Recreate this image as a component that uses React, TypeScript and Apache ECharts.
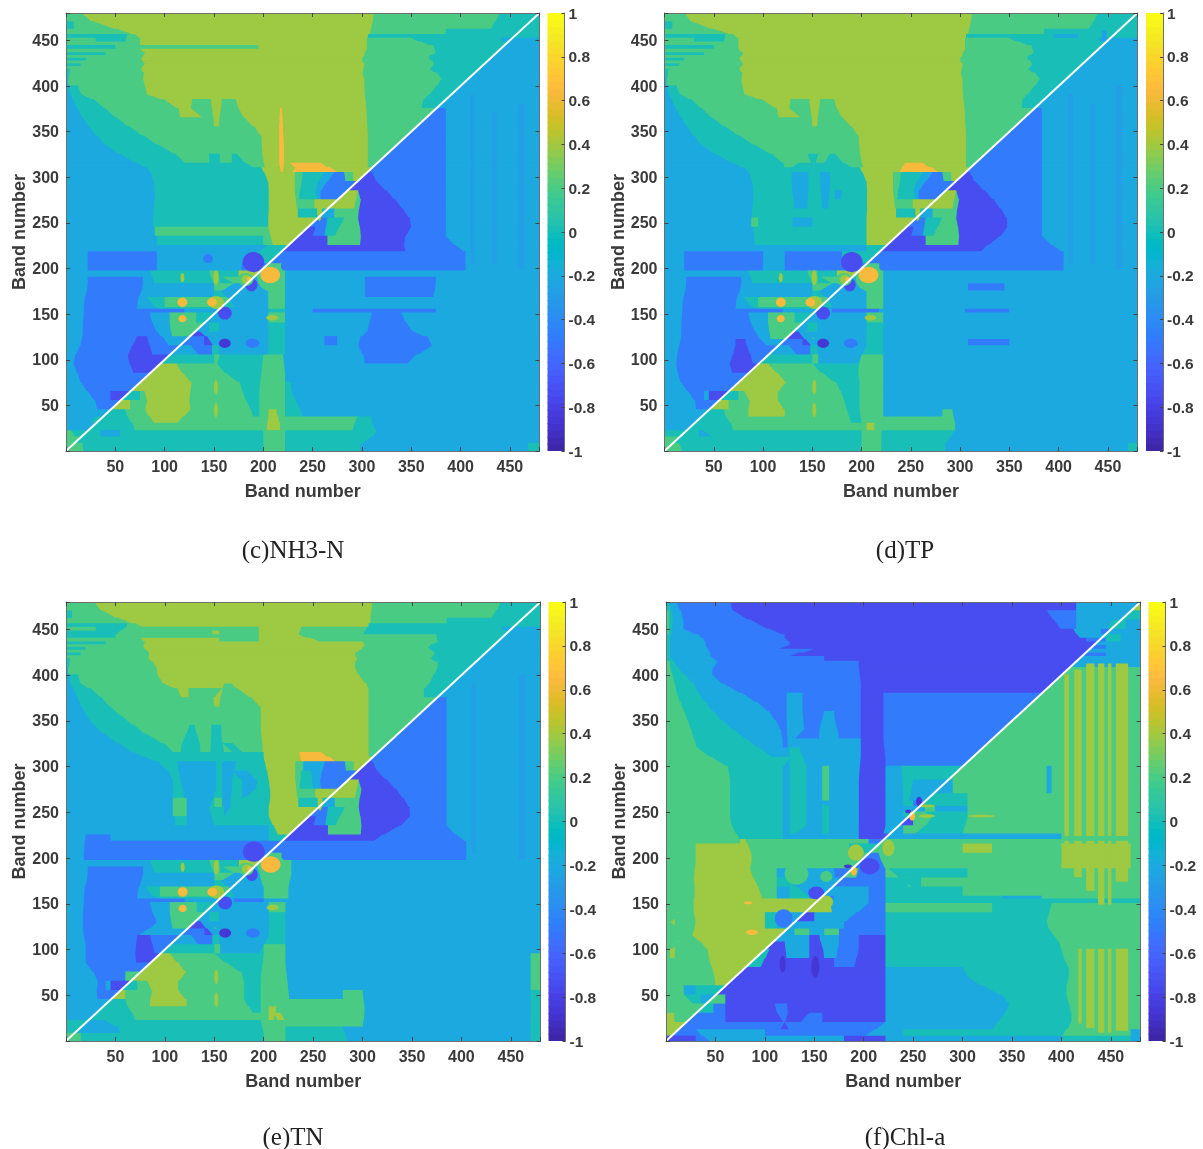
import React, { useEffect, useRef } from "react";
import * as echarts from "echarts";

// Contour level values; the digits in the rows below are indexes into this list.
const levelValues = [-0.85, -0.72, -0.48, -0.2, 0, 0.2, 0.4, 0.65, 0.9, -0.27];

const parula = [
  [0.2422,0.1504,0.6603],[0.2504,0.165,0.7076],[0.2578,0.1818,0.7511],[0.2647,0.1978,0.7952],
  [0.2706,0.2147,0.8364],[0.2751,0.2342,0.871],[0.2783,0.2559,0.8991],[0.2803,0.2782,0.9221],
  [0.2813,0.3006,0.9414],[0.281,0.3228,0.9579],[0.2795,0.3447,0.9717],[0.276,0.3667,0.9829],
  [0.2699,0.3892,0.9906],[0.2602,0.4123,0.9952],[0.244,0.4358,0.9988],[0.2206,0.4603,0.9973],
  [0.1963,0.4847,0.9892],[0.1834,0.5074,0.9798],[0.1786,0.5289,0.9682],[0.1764,0.5499,0.952],
  [0.1687,0.5703,0.9359],[0.154,0.5902,0.9218],[0.146,0.6091,0.9079],[0.138,0.6276,0.8973],
  [0.1248,0.6459,0.8883],[0.1113,0.6635,0.8763],[0.0952,0.6798,0.8598],[0.0689,0.6948,0.8394],
  [0.0297,0.7082,0.8163],[0.0036,0.7203,0.7917],[0.0067,0.7312,0.766],[0.0433,0.7411,0.7394],
  [0.0964,0.75,0.712],[0.1408,0.7584,0.6842],[0.1717,0.767,0.6554],[0.1938,0.7758,0.6251],
  [0.2161,0.7843,0.5923],[0.247,0.7918,0.5567],[0.2906,0.7973,0.5188],[0.3406,0.8008,0.4789],
  [0.3909,0.8029,0.4354],[0.4456,0.8024,0.3909],[0.5044,0.7993,0.348],[0.5616,0.7942,0.3045],
  [0.6174,0.7876,0.2612],[0.672,0.7793,0.2227],[0.7242,0.7698,0.191],[0.7738,0.7598,0.1646],
  [0.8203,0.7498,0.1535],[0.8634,0.7406,0.1596],[0.9035,0.733,0.1774],[0.9393,0.7288,0.21],
  [0.9728,0.7298,0.2394],[0.9956,0.7434,0.2371],[0.997,0.7659,0.2199],[0.9952,0.7893,0.2028],
  [0.9892,0.8136,0.1885],[0.9786,0.8386,0.1766],[0.9676,0.8639,0.1643],[0.961,0.889,0.1537],
  [0.9597,0.9135,0.1423],[0.9628,0.9373,0.1265],[0.9691,0.9606,0.1064],[0.9769,0.9839,0.0805],
];

// Each row: "upper band | level endBand level endBand ..."; a row reaches down to the next row's band.
const rowsC = [
  "480|5 15 6 312 5 440 4 480",
  "470|4 8 5 40 6 310 5 430 4 480",
  "462|5 65 6 308 5 385 4 480",
  "456|4 62 5 75 6 306 4 480",
  "452|5 30 4 60 5 75 6 305 5 350 4 440 3 480",
  "448|5 75 6 305 5 370 4 445 3 480",
  "444|4 50 5 195 6 305 5 375 4 442 3 480",
  "440|5 75 6 305 5 372 4 438 3 480",
  "436|4 40 5 85 6 300 5 378 4 436 3 480",
  "433|5 72 6 305 5 360 4 433 3 480",
  "430|4 20 5 80 6 295 5 375 4 430 3 480",
  "427|5 75 6 305 5 368 4 427 3 480",
  "424|4 15 5 85 6 300 5 378 4 424 3 480",
  "421|5 70 6 305 5 365 4 421 3 480",
  "418|4 4 5 82 6 298 5 372 4 418 3 480",
  "414|4 3 5 76 6 303 5 380 4 414 3 480",
  "408|3 2 5 80 6 302 5 382 4 404 3 480",
  "400|3 3 4 12 5 80 6 303 5 370 4 396 3 480",
  "390|3 6 4 20 5 85 6 303 5 365 4 388 3 480",
  "385|3 9 4 36 5 112 6 128 5 147 6 158 5 172 6 304 5 360 4 380 2 385 3 480",
  "375|3 14 4 44 5 116 6 125 5 149 6 156 5 178 6 217 7 219 6 305 5 370 2 385 3 480",
  "365|3 20 4 58 5 150 6 155 5 183 6 216 7 220 6 305 5 360 2 385 3 480",
  "355|3 27 4 70 5 198 6 216 7 220 6 306 5 350 2 385 3 480",
  "345|3 36 4 88 5 198 6 216 7 221 6 306 5 340 2 385 3 480",
  "335|3 44 4 100 5 199 6 216 7 221 6 306 5 330 2 385 3 480",
  "325|3 65 4 122 5 145 4 156 5 168 4 173 5 199 6 216 7 221 6 306 5 320 2 385 3 480",
  "315|3 80 4 192 5 202 6 216 7 221 6 238 7 258 6 306 5 312 2 385 3 480",
  "310|3 84 4 198 6 218 7 220 6 228 7 278 6 306 2 385 3 480",
  "305|3 88 4 204 6 232 5 240 4 262 3 272 2 282 5 291 6 300 1 310 2 385 3 480",
  "295|3 90 4 206 6 232 5 238 4 250 3 258 2 285 5 292 1 320 2 385 3 480",
  "285|3 90 4 205 6 232 5 236 4 255 3 258 2 275 6 296 5 300 1 330 2 385 3 480",
  "275|3 90 4 206 6 234 5 252 6 262 2 275 6 292 5 298 1 338 2 385 3 480",
  "265|3 88 4 205 6 235 4 252 3 258 1 264 3 272 5 296 1 345 2 385 3 480",
  "255|3 88 4 205 6 245 2 250 1 256 2 265 4 282 5 296 1 352 2 385 3 480",
  "245|3 90 5 205 6 235 1 250 2 262 4 272 5 300 1 348 2 385 3 480",
  "235|3 92 4 200 5 210 6 228 1 265 5 298 1 340 2 385 3 480",
  "225|3 205 4 222 1 345 2 405 3 480",
  "218|3 22 2 92 3 182 4 212 2 405 3 480",
  "205|3 22 2 92 3 178 2 200 5 218 2 405 3 480",
  "197|3 85 4 145 5 155 4 175 6 190 1 196 5 222 3 480",
  "190|3 22 2 78 3 90 4 150 5 156 4 172 5 185 3 197 5 222 3 303 2 375 3 480",
  "183|3 22 2 78 3 150 5 156 3 195 3 205 5 222 3 303 2 375 3 480",
  "175|3 20 2 75 3 150 4 156 3 205 5 222 3 303 2 372 3 480",
  "168|3 18 2 72 3 82 4 100 5 165 4 172 3 205 5 222 3 480",
  "157|3 18 2 72 3 100 4 150 6 156 3 205 5 222 3 480",
  "155|3 18 2 120 3 205 4 222 3 250 2 375 3 480",
  "151|3 18 2 85 3 105 5 132 4 150 6 153 3 205 5 222 3 310 2 340 3 480",
  "140|3 16 2 90 3 105 5 130 3 145 4 155 3 205 4 222 3 305 2 350 3 480",
  "130|3 18 2 95 3 108 5 125 1 136 3 150 5 155 3 205 4 222 3 305 2 355 3 480",
  "125|3 15 2 72 1 82 2 100 3 118 2 140 1 150 3 205 4 222 3 262 2 275 3 292 2 378 3 480",
  "115|3 14 2 62 1 88 2 110 3 135 2 148 4 155 3 205 4 222 3 300 2 365 3 480",
  "105|3 5 2 63 1 95 4 150 5 156 4 200 5 220 3 303 2 345 3 480",
  "95|3 10 2 66 1 88 5 95 6 112 5 150 4 198 5 222 3 480",
  "85|3 13 2 72 1 78 6 125 5 174 4 198 5 222 3 480",
  "75|3 17 2 68 5 74 6 130 5 178 4 196 5 222 4 228 3 480",
  "65|3 27 2 45 1 56 4 75 5 85 6 122 5 180 4 196 5 222 4 230 3 480",
  "55|3 32 2 50 6 65 5 80 6 128 5 185 4 196 5 222 4 236 3 480",
  "45|3 35 4 60 5 80 6 125 5 190 4 196 5 205 6 213 5 222 4 240 3 480",
  "37|3 25 4 65 5 90 6 112 5 205 6 217 5 295 4 310 3 480",
  "30|3 22 4 70 5 203 6 217 5 290 4 310 3 480",
  "22|5 5 4 35 3 55 4 200 5 222 4 320 3 480",
  "15|5 15 4 200 5 222 4 300 3 480",
  "8|5 18 4 200 5 222 4 298 3 468 4 480",
];

const rowsD = [
  "480|5 20 6 312 5 440 4 480",
  "470|4 8 5 35 6 310 5 430 4 480",
  "462|5 65 6 308 5 385 4 480",
  "456|4 62 5 75 6 306 4 395 3 420 4 480",
  "452|5 30 4 60 5 75 6 305 5 350 4 440 3 480",
  "448|5 75 6 305 5 370 4 445 3 480",
  "444|4 50 5 75 6 305 5 375 4 442 3 480",
  "440|5 75 6 305 5 372 4 438 3 480",
  "436|4 40 5 85 6 300 5 378 4 436 3 480",
  "433|5 72 6 305 5 360 4 433 3 480",
  "430|4 20 5 80 6 295 5 375 4 430 3 480",
  "427|5 75 6 305 5 368 4 427 3 480",
  "424|4 15 5 85 6 300 5 378 4 424 3 480",
  "421|5 70 6 305 5 365 4 421 3 480",
  "418|4 4 5 82 6 298 5 372 4 418 3 480",
  "414|4 3 5 76 6 303 5 380 4 414 3 480",
  "408|3 2 5 80 6 302 5 382 4 404 3 480",
  "400|3 3 4 12 5 78 6 303 5 370 4 396 3 480",
  "390|3 6 4 20 5 85 6 303 5 365 4 388 3 480",
  "385|3 9 4 34 5 112 6 128 5 147 6 158 5 172 6 304 5 362 4 380 3 480",
  "375|3 14 4 42 5 116 6 125 5 149 6 156 5 178 6 305 5 372 2 383 3 480",
  "365|3 20 4 55 5 150 6 155 5 183 6 305 5 360 2 383 3 480",
  "355|3 26 4 68 5 197 6 306 5 350 2 383 3 480",
  "345|3 34 4 85 5 197 6 306 5 340 2 383 3 480",
  "335|3 42 4 98 5 198 6 306 5 330 2 383 3 480",
  "325|3 62 4 120 5 145 4 156 5 168 4 173 5 199 6 306 5 320 2 383 3 480",
  "315|3 78 4 122 5 127 4 150 5 154 4 192 5 202 6 244 7 262 6 306 5 312 2 383 3 480",
  "310|3 84 4 198 6 238 7 280 6 306 2 383 3 480",
  "305|3 88 4 129 3 146 4 158 3 168 4 204 6 232 5 240 4 262 3 272 2 282 5 291 6 300 1 310 2 383 3 480",
  "295|3 90 4 129 3 146 4 158 3 168 4 206 6 232 5 238 4 250 3 258 2 285 5 292 1 320 2 383 3 480",
  "285|3 90 4 130 3 146 4 159 3 167 4 187 3 192 4 205 6 232 5 236 4 255 3 258 2 275 6 296 5 300 1 330 2 383 3 480",
  "275|3 90 4 132 3 145 4 160 3 166 4 206 6 234 5 252 6 262 2 275 6 292 5 298 1 338 2 383 3 480",
  "265|3 88 4 205 6 235 4 252 3 258 1 264 3 272 5 296 1 345 2 383 3 480",
  "255|3 88 5 95 4 130 3 150 4 205 6 245 2 250 1 256 2 265 4 282 5 296 1 350 2 383 3 480",
  "245|3 90 4 205 6 235 1 250 2 262 4 272 5 300 1 346 2 383 3 480",
  "235|3 92 4 205 6 228 1 265 5 298 1 335 2 383 3 480",
  "225|3 205 4 222 1 320 2 405 3 480",
  "218|3 20 2 100 3 122 2 180 4 212 2 405 3 480",
  "205|3 20 2 100 3 122 2 200 5 218 2 405 3 480",
  "197|3 85 4 145 5 155 4 175 6 190 1 196 5 222 3 480",
  "190|3 22 2 78 3 90 4 150 5 156 4 172 5 185 3 197 5 222 3 480",
  "183|3 22 2 78 3 150 5 156 3 205 5 222 3 308 2 345 3 480",
  "175|3 20 2 75 3 150 4 156 3 205 5 222 3 480",
  "168|3 18 2 72 3 80 4 95 5 165 4 172 3 205 5 222 3 480",
  "157|3 18 2 72 3 100 4 150 6 156 3 205 5 222 3 480",
  "155|3 18 2 120 3 170 2 218 3 305 2 350 3 480",
  "151|3 18 2 85 3 105 5 132 4 150 6 153 3 205 5 222 3 480",
  "140|3 16 2 90 3 105 5 130 3 145 4 155 3 205 4 222 3 480",
  "130|3 18 2 95 3 108 5 125 1 136 3 150 5 155 3 205 4 222 3 480",
  "122|3 15 2 72 1 82 2 100 3 118 2 140 1 150 3 205 4 222 3 308 2 350 3 480",
  "115|3 14 2 72 1 85 2 110 3 135 2 148 4 155 3 205 4 222 3 480",
  "105|3 12 2 66 1 90 2 100 4 150 5 156 3 195 4 200 5 222 3 480",
  "95|3 12 2 66 1 88 5 95 6 105 5 150 4 195 5 222 3 480",
  "85|3 15 2 72 1 78 6 125 5 170 4 198 5 222 3 480",
  "75|3 18 2 68 5 74 6 122 5 178 4 198 5 222 3 480",
  "65|3 30 2 40 3 45 1 56 4 75 5 88 6 108 5 180 4 198 5 222 3 480",
  "55|3 32 2 50 6 65 5 85 6 122 5 185 4 198 5 222 3 480",
  "45|3 35 4 60 5 85 6 122 5 185 4 198 5 222 3 282 5 292 3 480",
  "37|3 28 4 65 5 190 4 200 5 295 3 480",
  "30|3 28 4 70 5 205 6 213 5 295 3 480",
  "22|4 35 3 50 4 200 5 220 4 295 3 480",
  "15|5 12 4 200 5 220 4 285 3 480",
  "8|5 18 4 200 5 220 4 285 3 470 4 480",
];

const rowsE = [
  "480|5 28 6 310 5 440 4 480",
  "470|4 6 5 45 6 308 5 430 4 480",
  "462|5 60 6 308 5 385 4 480",
  "456|4 62 5 80 6 306 4 480",
  "452|5 30 4 60 5 195 6 238 5 305 4 440 3 480",
  "448|4 50 5 148 6 155 5 195 6 235 5 300 4 445 3 480",
  "444|4 50 5 195 6 235 5 375 4 442 3 480",
  "440|5 75 6 155 5 195 6 260 5 375 4 438 3 480",
  "436|4 40 5 85 6 300 5 378 4 436 3 480",
  "433|5 72 6 305 5 360 4 433 3 480",
  "430|4 20 5 85 6 295 5 372 4 430 3 480",
  "427|5 78 6 300 5 368 4 427 3 480",
  "424|4 15 5 90 6 285 5 378 4 424 3 480",
  "421|5 78 6 300 5 365 4 421 3 480",
  "418|4 4 5 88 6 290 5 372 4 418 3 480",
  "414|4 3 5 88 6 295 5 380 4 414 3 480",
  "408|3 2 5 95 6 290 5 372 4 404 3 480",
  "400|3 3 4 12 5 90 6 302 5 372 4 396 3 480",
  "390|3 6 4 18 5 108 6 160 5 168 6 306 5 362 4 388 3 480",
  "385|3 9 4 32 5 117 6 124 5 148 6 157 5 178 6 306 5 362 4 380 3 480",
  "375|3 14 4 40 5 150 6 155 5 197 6 306 5 372 2 385 3 480",
  "365|3 18 4 50 5 197 6 306 5 360 2 385 3 480",
  "355|3 24 4 62 5 197 6 306 5 350 2 385 3 480",
  "345|3 33 4 75 5 125 4 130 5 147 4 157 5 197 6 306 5 340 2 385 3 480",
  "335|3 45 4 88 5 118 4 135 5 147 4 157 5 198 6 306 5 330 2 385 3 480",
  "325|3 62 4 110 5 116 4 136 5 146 4 160 5 170 4 180 5 199 6 306 5 320 2 385 3 480",
  "315|3 75 4 200 6 236 7 258 6 306 5 312 2 385 3 480",
  "310|3 85 4 200 6 238 7 275 6 306 2 385 3 480",
  "305|3 100 4 112 3 152 4 158 3 172 4 202 6 232 5 240 3 262 2 282 5 291 6 300 1 310 2 385 3 480",
  "295|3 108 4 116 3 152 4 158 3 168 4 178 3 195 4 205 6 232 5 238 4 248 3 256 2 285 5 292 1 320 2 385 3 480",
  "285|3 108 4 116 3 152 4 158 3 168 4 178 3 192 4 205 6 232 5 236 4 250 3 258 2 275 6 296 5 300 1 330 2 385 3 480",
  "275|3 108 4 120 3 152 4 158 3 168 4 178 3 192 4 208 6 234 5 252 6 262 2 275 6 292 5 298 1 338 2 385 3 480",
  "265|3 108 5 122 3 145 4 150 5 158 3 165 4 205 6 235 4 252 3 258 1 264 3 272 5 296 1 345 2 385 3 480",
  "255|3 108 5 122 3 145 4 160 3 168 4 205 6 245 2 250 1 256 2 265 4 282 5 296 1 350 2 385 3 480",
  "245|3 110 4 122 3 150 4 205 6 235 1 250 2 262 4 272 5 300 1 346 2 385 3 480",
  "235|3 205 4 215 6 228 1 265 5 298 1 330 2 385 3 480",
  "225|3 20 2 45 3 205 4 222 1 310 2 405 3 480",
  "218|3 18 2 205 4 212 2 405 3 480",
  "205|3 18 2 200 5 218 2 405 3 480",
  "197|3 85 4 145 5 155 4 175 6 190 1 196 5 228 3 480",
  "190|3 22 2 78 3 90 4 150 5 156 4 172 5 185 3 197 5 228 3 480",
  "183|3 22 2 78 3 150 5 156 3 195 5 228 3 480",
  "175|3 20 2 75 3 150 4 156 3 200 5 225 3 480",
  "168|3 18 2 72 3 80 4 95 5 165 4 172 3 200 5 225 3 480",
  "157|3 18 2 72 3 100 4 150 6 156 3 200 5 225 3 480",
  "155|3 18 2 120 3 170 2 200 3 480",
  "151|3 18 2 85 3 105 5 132 4 150 6 153 3 205 5 222 3 480",
  "140|3 16 2 90 3 105 5 130 3 145 4 155 3 205 4 222 3 480",
  "130|3 18 2 95 3 108 5 125 1 136 3 150 5 155 3 205 4 222 3 480",
  "122|3 16 2 72 3 118 2 140 1 150 3 205 4 222 3 480",
  "115|3 20 2 72 1 85 2 110 3 135 2 148 4 155 3 205 4 222 3 480",
  "105|3 20 2 70 1 90 2 100 4 150 5 156 3 195 4 200 5 222 3 480",
  "95|3 20 2 70 1 85 5 95 6 105 5 150 4 200 5 222 3 470 5 480",
  "85|3 20 2 72 1 78 6 122 5 175 4 198 5 222 3 470 5 480",
  "75|3 35 2 60 5 74 6 122 5 180 4 197 5 224 3 470 5 480",
  "65|3 30 2 40 3 45 1 56 4 72 5 90 6 105 5 180 4 197 5 224 3 470 5 480",
  "55|3 32 2 50 6 60 5 85 6 122 5 180 4 197 5 226 3 280 5 300 3 470 4 480",
  "45|3 35 4 60 5 85 6 122 5 180 4 197 5 302 3 470 4 480",
  "37|3 28 4 65 5 190 4 197 5 205 6 213 5 302 3 470 4 480",
  "30|3 28 4 70 5 205 6 210 5 215 6 222 5 302 3 470 4 480",
  "22|4 15 3 50 4 197 5 300 3 470 4 480",
  "15|4 15 3 55 4 200 5 222 4 280 3 470 4 480",
  "8|5 15 4 200 5 222 4 285 3 470 4 480",
];

const rowsF = [
  "480|4 3 3 10 2 65 1 415 3 470 6 480",
  "470|5 3 4 8 3 20 2 70 1 385 2 415 3 460 4 480",
  "460|5 3 4 6 3 15 2 100 1 400 2 415 3 445 4 465 3 480",
  "450|5 3 4 6 3 20 2 110 1 412 3 440 2 450 3 480",
  "444|4 4 3 45 2 130 1 420 3 445 4 460 3 480",
  "440|4 4 3 30 2 110 1 425 2 445 4 460 3 480",
  "436|4 4 3 50 2 140 1 430 3 480",
  "432|4 4 3 30 2 110 1 430 2 445 3 480",
  "428|4 4 3 55 2 150 1 428 3 480",
  "424|4 4 3 35 2 120 1 424 2 445 3 480",
  "420|4 4 3 55 2 160 1 420 3 480",
  "415|5 4 4 12 3 50 2 195 1 412 3 480",
  "408|5 5 4 12 3 45 2 195 1 408 5 480",
  "400|5 8 4 26 3 48 2 197 1 400 5 480",
  "390|5 10 4 30 3 68 2 197 1 390 5 480",
  "380|5 12 4 36 3 85 2 122 3 138 2 197 1 220 2 380 5 480",
  "370|5 17 4 44 3 100 2 122 3 138 2 197 1 220 2 370 5 480",
  "360|5 20 4 52 3 108 2 122 3 138 2 160 3 170 2 197 1 220 2 360 5 480",
  "350|5 24 4 62 3 114 2 122 3 140 2 155 3 172 2 197 1 220 2 350 5 480",
  "340|5 27 4 75 3 118 2 123 3 140 2 155 3 175 2 197 1 220 2 340 5 480",
  "330|5 30 4 88 3 118 2 123 3 197 1 220 2 330 5 480",
  "320|5 33 4 100 3 125 4 135 3 197 1 222 2 320 5 480",
  "310|5 60 4 118 3 125 4 142 3 158 4 165 3 197 1 222 2 310 5 480",
  "300|5 65 4 118 3 125 4 142 3 158 5 165 3 195 1 222 3 238 4 300 5 385 3 390 5 480",
  "285|5 65 4 118 3 125 4 142 3 158 5 165 3 195 1 222 3 240 4 250 3 290 5 385 3 390 5 480",
  "270|5 65 4 118 3 125 4 142 3 158 5 165 3 195 1 222 3 240 4 245 3 270 4 305 5 480",
  "262|5 65 4 118 3 125 4 142 3 158 4 165 3 195 1 222 3 240 4 250 2 262 4 305 5 480",
  "256|5 65 4 118 3 125 4 142 3 158 4 165 3 195 1 222 3 262 5 272 3 305 5 480",
  "250|5 65 4 118 3 125 4 142 3 158 4 165 3 195 1 222 3 240 4 250 5 262 4 305 5 480",
  "244|5 65 4 118 3 125 4 142 3 158 4 165 3 195 1 222 3 240 1 250 5 275 4 305 5 480",
  "235|5 68 4 118 3 125 4 142 3 158 4 165 3 195 1 222 3 240 5 250 4 300 5 480",
  "226|5 75 4 118 3 195 1 218 3 400 5 480",
  "220|5 75 6 80 5 205 2 222 5 480",
  "215|5 30 6 85 5 185 4 215 5 300 6 330 5 400 6 470 5 480",
  "205|5 30 6 88 5 200 2 215 5 400 6 470 5 480",
  "195|5 30 6 85 5 198 2 222 5 400 6 470 5 480",
  "188|5 28 6 85 5 112 3 170 2 182 5 192 2 222 5 225 4 305 5 480",
  "178|5 28 6 92 5 112 4 120 3 172 2 222 4 245 5 250 4 258 5 480",
  "168|5 30 6 95 5 112 3 125 4 145 3 205 2 222 4 300 5 480",
  "158|5 28 6 98 5 112 3 125 4 145 2 170 3 205 2 222 4 340 3 380 5 480",
  "155|5 28 6 165 3 205 2 222 4 480",
  "150|5 28 6 168 3 205 2 222 5 330 4 390 5 480",
  "140|5 4 6 9 5 28 6 100 4 112 3 140 1 150 3 180 2 222 4 385 5 480",
  "130|5 4 6 9 5 32 6 100 4 112 3 180 2 222 4 385 5 480",
  "122|5 25 6 112 3 130 5 145 3 160 5 175 2 222 4 390 5 480",
  "115|5 28 6 108 3 145 1 155 3 175 2 195 1 222 4 395 5 480",
  "108|5 4 6 9 5 42 6 100 1 120 3 145 1 158 3 175 2 195 1 222 4 400 5 480",
  "100|5 4 6 9 5 42 6 95 4 105 1 122 3 145 1 160 3 172 2 195 1 222 4 400 5 480",
  "90|5 45 6 85 4 95 1 170 2 190 1 222 4 405 5 480",
  "80|5 48 6 75 1 222 3 300 4 410 5 480",
  "70|5 50 6 62 5 70 1 222 3 310 4 405 5 480",
  "60|5 18 3 30 4 50 6 58 1 222 3 330 4 405 5 480",
  "50|5 18 4 35 3 48 5 60 1 222 3 350 4 405 5 480",
  "40|5 18 5 40 4 48 2 60 1 110 2 122 1 222 3 345 4 410 5 480",
  "30|6 8 5 32 2 60 1 115 2 125 1 145 2 158 1 222 3 340 4 410 5 480",
  "20|6 10 5 18 2 115 1 125 2 222 3 330 4 410 5 480",
  "12|6 5 2 30 3 100 2 200 3 240 4 400 5 470 3 480",
  "5|1 30 2 45 3 180 1 222 3 400 4 470 3 480",
];

// Vertical streaks: level, band from, band to, lower band, upper band.
const patchesC = [[9,410,414,205,390],[9,458,464,200,380],[9,432,436,205,370]];
const patchesD = [[9,410,414,205,390],[9,458,464,200,400],[9,432,436,205,380],[9,444,448,450,460]];
const patchesE = [[9,410,414,205,390],[9,458,464,200,400]];
const patchesF = [
  [6,403,407,225,400],[6,413,420,225,405],[6,425,433,225,412],[6,437,443,225,412],[6,447,450,225,412],[6,455,467,225,412],
  [6,403,407,195,218],[6,413,420,180,218],[6,425,433,165,218],[6,437,443,150,218],[6,447,450,150,218],[6,455,467,175,218],
  [6,417,420,20,100],[6,425,433,15,100],[6,437,443,10,100],[6,447,450,10,100],[6,455,467,12,100],
];

// Round features: level, band x, band y, x radius, y radius.
const spotsCDE = [
  [5,208,190,14,15],[7,207,193,10,9],[1,190,207,11,11],[1,188,182,6,7],
  [5,182,188,8,7],[6,183,188,5,5],[7,186,188,2.5,3],
  [5,118,163,8,6],[7,118,163,5,5],[6,152,163,8,7],[7,148,163,5,4.5],
  [1,161,151,7,7],[0,161,118,6,5],[2,189,118,7,5],[2,144,211,5,5],
  [7,118,145,4,4],[6,118,190,2,5],[6,152,190,2.5,8],[6,209,146,6,3],[6,152,70,2,8],[6,152,45,2,8],
  [6,257,264,2.5,12],
];
const spotsF = [
  [1,152,162,8,7],[6,162,152,7,7],[2,119,134,9,10],[3,118,162,4,5],[0,184,191,4,2],
  [7,190,186,3,5],[6,192,206,8,9],[1,206,191,10,9],[6,225,211,6,9],[0,245,251,3,2],[0,256,262,3,5],
  [7,249,246,3,5],[6,264,257,8,1.5],[6,264,246,8,2],[6,319,246,14,1.5],[7,83,151,4,1.5],[7,87,119,6,3],
  [0,118,84,3,9],[0,151,81,4,12],[5,132,183,12,12],[5,162,180,6,6],
];

const bandTicks = [50, 100, 150, 200, 250, 300, 350, 400, 450];
const diagonal = [[0, 0], [480, 480]];
const colourbarSteps = parula.map((_, i) => i);

const panels = [
  { caption: "(c)NH3-N", rows: rowsC, patches: patchesC, spots: spotsCDE, left: 66, right: 539.5, top: 13, bottom: 451, barL: 547.5, barR: 564.5, capX: 293, capY: 549 },
  { caption: "(d)TP", rows: rowsD, patches: patchesD, spots: spotsCDE, left: 664.5, right: 1137.5, top: 13, bottom: 451, barL: 1146, barR: 1163, capX: 905, capY: 549 },
  { caption: "(e)TN", rows: rowsE, patches: patchesE, spots: spotsCDE, left: 66, right: 540.5, top: 602, bottom: 1041, barL: 548.5, barR: 565.5, capX: 293, capY: 1136 },
  { caption: "(f)Chl-a", rows: rowsF, patches: patchesF, spots: spotsF, left: 666, right: 1140.5, top: 602, bottom: 1041, barL: 1148.5, barR: 1165.5, capX: 905, capY: 1136 },
];

const toColour = (v: number) => {
  const i = Math.max(0, Math.min(63, Math.floor(((v + 1) / 2) * 64)));
  const [r, g, b] = parula[i];
  return `rgb(${Math.round(r * 255)},${Math.round(g * 255)},${Math.round(b * 255)})`;
};

const parseRows = (rows: string[]) =>
  rows.map((row, k) => {
    const [head, body] = row.split("|");
    const top = Number(head);
    const bottom = k + 1 < rows.length ? Number(rows[k + 1].split("|")[0]) : 0;
    const parts = body.trim().split(/\s+/).map(Number);
    const runs: { lv: number; end: number }[] = [];
    for (let j = 0; j + 1 < parts.length; j += 2) {
      const last = runs[runs.length - 1];
      if (last && last.lv === parts[j]) last.end = parts[j + 1];
      else runs.push({ lv: parts[j], end: parts[j + 1] });
    }
    return { top, bottom, runs };
  });

// One [xTopL, xTopR, xBotL, xBotR, y0, y1, value] per run: a run's sides lean towards the same contour in the neighbouring rows.
const toCells = (rows: string[], patches: number[][]) => {
  const parsed = parseRows(rows);
  const cells: number[][] = [];
  const lean = (row: any, other: any, i: number) => {
    const x = row.runs[i].end;
    if (!other) return x;
    let best = x;
    let bestD = 31;
    for (let j = 0; j + 1 < other.runs.length; j++) {
      if (other.runs[j].lv === row.runs[i].lv && other.runs[j + 1].lv === row.runs[i + 1].lv) {
        const d = Math.abs(other.runs[j].end - x);
        if (d < bestD) { bestD = d; best = other.runs[j].end; }
      }
    }
    return (x + best) / 2;
  };
  parsed.forEach((row, k) => {
    const edges = row.runs.slice(0, -1).map((r, i) => {
      if (r.end >= row.bottom - 3 && r.end <= row.top + 3) return { t: row.top, b: row.bottom };
      return { t: lean(row, parsed[k - 1], i), b: lean(row, parsed[k + 1], i) };
    });
    row.runs.forEach((r, i) => {
      const L = i === 0 ? { t: 0, b: 0 } : edges[i - 1];
      const R = i === row.runs.length - 1 ? { t: 480, b: 480 } : edges[i];
      cells.push([L.t, R.t, L.b, R.b, row.bottom, row.top, levelValues[r.lv]]);
    });
  });
  patches.forEach(([lv, x0, x1, y0, y1]) => cells.push([x0, x1, x0, x1, y0, y1, levelValues[lv]]));
  return cells;
};

const renderCell = (_: any, api: any) => {
  const tl = api.coord([api.value(0), api.value(5)]);
  const tr = api.coord([api.value(1), api.value(5)]);
  const br = api.coord([api.value(3), api.value(4)]);
  const bl = api.coord([api.value(2), api.value(4)]);
  return {
    type: "polygon",
    shape: { points: [[tl[0], tl[1] - 0.8], [tr[0] + 0.5, tr[1] - 0.8], [br[0] + 0.5, br[1] + 0.8], [bl[0], bl[1] + 0.8]] },
    style: { fill: toColour(api.value(6)) },
  };
};

const renderSpot = (_: any, api: any) => {
  const c = api.coord([api.value(0), api.value(1)]);
  const s = api.size([api.value(2), api.value(3)]);
  return {
    type: "ellipse",
    shape: { cx: c[0], cy: c[1], rx: s[0], ry: s[1] },
    style: { fill: toColour(api.value(4)) },
  };
};

const renderStep = (_: any, api: any) => {
  const i = api.value(0);
  const a = api.coord([0, -1 + (2 * i) / 64]);
  const b = api.coord([1, -1 + (2 * (i + 1)) / 64]);
  const [r, g, bl] = parula[i];
  return {
    type: "rect",
    shape: { x: a[0], y: b[1] - 0.5, width: b[0] - a[0], height: a[1] - b[1] + 1 },
    style: { fill: `rgb(${Math.round(r * 255)},${Math.round(g * 255)},${Math.round(bl * 255)})` },
  };
};

const FONT = "'Liberation Sans', Arial, sans-serif";
const INK = "#3a3a3a";
const AXIS = "#6e6e6e";
const W = 1203;
const H = 1149;

const buildOption = () => {
  const grid: any[] = [];
  const xAxis: any[] = [];
  const yAxis: any[] = [];
  const series: any[] = [];
  const graphic: any[] = [];
  const hidden = (v: number) => (bandTicks.includes(v) ? String(v) : "");
  panels.forEach((p) => {
    const g = grid.length;
    grid.push({ left: p.left, top: p.top, width: p.right - p.left, height: p.bottom - p.top, show: true, borderWidth: 0, backgroundColor: toColour(levelValues[3]) });
    const xi = xAxis.length;
    const yi = yAxis.length;
    const base = {
      type: "value", min: 0, max: 480, interval: 50, gridIndex: g, splitLine: { show: false }, z: 10,
      axisLine: { show: true, onZero: false, lineStyle: { color: AXIS, width: 1 } },
      axisTick: { show: true, inside: true, length: 4, lineStyle: { color: "#444", width: 1 } },
    };
    const labels = { show: true, formatter: hidden, color: INK, fontFamily: FONT, fontWeight: "bold", fontSize: 16, margin: 7 };
    const nameStyle = { color: INK, fontFamily: FONT, fontWeight: "bold", fontSize: 18 };
    xAxis.push({ ...base, position: "bottom", axisLabel: labels, name: "Band number", nameLocation: "middle", nameGap: 31, nameTextStyle: nameStyle });
    xAxis.push({ ...base, position: "top", axisLabel: { show: false } });
    yAxis.push({ ...base, position: "left", axisLabel: labels, name: "Band number", nameLocation: "middle", nameGap: 34, nameTextStyle: nameStyle });
    yAxis.push({ ...base, position: "right", axisLabel: { show: false } });
    series.push({
      type: "custom", xAxisIndex: xi, yAxisIndex: yi, silent: true, z: 1, clip: true,
      data: toCells(p.rows, p.patches), renderItem: renderCell,
      encode: { x: [0, 1], y: [4, 5] },
    });
    series.push({
      type: "custom", xAxisIndex: xi, yAxisIndex: yi, silent: true, z: 2, clip: true,
      data: p.spots.map(([lv, cx, cy, rx, ry]) => [cx, cy, rx, ry, levelValues[lv]]), renderItem: renderSpot,
      encode: { x: 0, y: 1 },
    });
    series.push({
      type: "line", xAxisIndex: xi, yAxisIndex: yi, silent: true, z: 5, data: diagonal, symbol: "none",
      lineStyle: { color: "#ffffff", width: 2 },
    });
    const gb = grid.length;
    grid.push({ left: p.barL, top: p.top, width: p.barR - p.barL, height: p.bottom - p.top });
    const xb = xAxis.length;
    const yb = yAxis.length;
    xAxis.push({ type: "value", min: 0, max: 1, gridIndex: gb, show: false });
    yAxis.push({
      type: "value", min: -1, max: 1, interval: 0.2, gridIndex: gb, position: "right", splitLine: { show: false }, z: 10,
      axisLine: { show: true, onZero: false, lineStyle: { color: AXIS, width: 1 } },
      axisTick: { show: true, inside: true, length: 3, lineStyle: { color: "#444", width: 1 } },
      axisLabel: { color: INK, fontFamily: FONT, fontWeight: "bold", fontSize: 15.5, margin: 4, formatter: (v: number) => String(Number(v.toFixed(1))) },
    });
    series.push({
      type: "custom", xAxisIndex: xb, yAxisIndex: yb, silent: true, z: 1, clip: true,
      data: colourbarSteps.map((i) => [i]), renderItem: renderStep, encode: { y: 0 },
    });
    graphic.push({
      type: "text", x: p.capX, y: p.capY,
      style: { text: p.caption, fill: "#222", font: "25px 'Liberation Serif', 'Times New Roman', serif", textAlign: "center", textVerticalAlign: "middle" },
    });
  });
  return { animation: false, backgroundColor: "#ffffff", grid, xAxis, yAxis, series, graphic };
};

export default function App() {
  const ref = useRef<HTMLDivElement>(null);
  useEffect(() => {
    const chart = echarts.init(ref.current!, undefined, { renderer: "svg" });
    chart.setOption(buildOption());
    return () => chart.dispose();
  }, []);
  return <div ref={ref} style={{ position: "absolute", left: 0, top: 0, width: W, height: H, filter: "blur(0.5px)" }} />;
}
